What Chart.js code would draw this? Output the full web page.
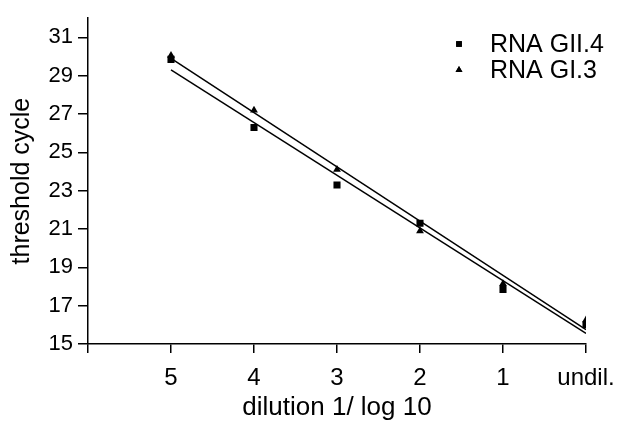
<!DOCTYPE html>
<html>
<head>
<meta charset="utf-8">
<script src="https://cdn.jsdelivr.net/npm/chart.js@4/dist/chart.umd.min.js"></script>
<style>
  html, body { margin: 0; padding: 0; background: #fff; }
  #wrap { width: 630px; height: 421px; position: relative; }
</style>
</head>
<body>
<div id="wrap"><canvas id="chart"></canvas></div>
<script>
// values (x = log10 dilution, 0 = undiluted)
const DILUTION = [5, 4, 3, 2, 1, 0];
const DILUTION_LABELS = ['5', '4', '3', '2', '1', 'undil.'];
const GII4_CT = [29.85, 26.3, 23.3, 21.3, 17.85, 16.0];
const GI3_CT = [30.05, 27.2, 24.1, 20.9, 18.15, 16.25];

// fitted lines, end points at x = 5 and x = 0
const FIT_X = [5, 0];
const GI3_FIT = [29.9, 15.75];
const GII4_FIT = [29.3, 15.55];

const Y_TICKS = [15, 17, 19, 21, 23, 25, 27, 29, 31];

const FONT = "'Liberation Sans', Arial, sans-serif";
const INK = '#000';

const toPoints = (xs, ys) => xs.map((x, i) => ({ x: x, y: ys[i] }));

// legend sits inside the plot, top right
const legendInside = {
  id: 'legendInside',
  afterDraw(chart) {
    const ctx = chart.ctx;
    const items = chart.data.datasets.filter((d) => d.inLegend);
    ctx.save();
    ctx.font = '25px ' + FONT;
    ctx.fillStyle = INK;
    ctx.textBaseline = 'middle';
    items.forEach((d, i) => {
      const y = 44 + i * 26;
      Chart.helpers.drawPoint(ctx, {
        pointStyle: d.pointStyle,
        radius: 4,
        borderWidth: 0,
      }, 459, y);
      ctx.fillStyle = INK;
      ctx.fill();
      ctx.fillText(d.label, 490, y + 1);
    });
    ctx.restore();
  },
};

new Chart(document.getElementById('chart'), {
  type: 'scatter',
  data: {
    datasets: [
      {
        label: 'RNA GII.4',
        inLegend: true,
        data: toPoints(DILUTION, GII4_CT),
        pointStyle: 'rect',
        pointRadius: 5,
        backgroundColor: INK,
        borderColor: INK,
        borderWidth: 0,
      },
      {
        label: 'RNA GI.3',
        inLegend: true,
        data: toPoints(DILUTION, GI3_CT),
        pointStyle: 'triangle',
        pointRadius: 4.5,
        backgroundColor: INK,
        borderColor: INK,
        borderWidth: 0,
      },
      {
        type: 'line',
        data: toPoints(FIT_X, GI3_FIT),
        borderColor: INK,
        borderWidth: 1.5,
        pointRadius: 0,
        fill: false,
      },
      {
        type: 'line',
        data: toPoints(FIT_X, GII4_FIT),
        borderColor: INK,
        borderWidth: 1.5,
        pointRadius: 0,
        fill: false,
      },
    ],
  },
  options: {
    responsive: true,
    maintainAspectRatio: false,
    animation: false,
    devicePixelRatio: 1,
    layout: { padding: { left: 0, right: 44, top: 13, bottom: 0 } },
    plugins: {
      legend: { display: false },
      tooltip: { enabled: false },
    },
    scales: {
      x: {
        type: 'linear',
        reverse: true,
        min: 0,
        max: 6,
        afterFit: (scale) => { scale.height = 77; },
        afterBuildTicks: (scale) => {
          scale.ticks = [6].concat(DILUTION).map((v) => ({ value: v }));
        },
        ticks: {
          color: INK,
          font: { family: FONT, size: 24 },
          padding: 11,
          maxRotation: 0,
          callback: (v) => {
            const i = DILUTION.indexOf(v);
            return i < 0 ? '' : DILUTION_LABELS[i];
          },
        },
        grid: {
          drawOnChartArea: false,
          tickLength: 9,
          color: INK,
          lineWidth: 1.5,
        },
        border: { display: true, color: INK, width: 1.5 },
        title: {
          display: true,
          text: 'dilution 1/ log 10',
          color: INK,
          font: { family: FONT, size: 26 },
          padding: { top: 0, bottom: -2 },
        },
      },
      y: {
        type: 'linear',
        min: 15,
        max: 32,
        afterFit: (scale) => { scale.width = 88; },
        afterBuildTicks: (scale) => {
          scale.ticks = Y_TICKS.map((v) => ({ value: v }));
        },
        ticks: {
          color: INK,
          font: { family: FONT, size: 22 },
          padding: 5,
        },
        grid: {
          drawOnChartArea: false,
          tickLength: 10,
          color: INK,
          lineWidth: 1.5,
        },
        border: { display: true, color: INK, width: 1.5 },
        title: {
          display: true,
          text: 'threshold cycle',
          color: INK,
          font: { family: FONT, size: 25 },
          padding: { top: 7, bottom: 0 },
        },
      },
    },
  },
  plugins: [legendInside],
});
</script>
</body>
</html>
